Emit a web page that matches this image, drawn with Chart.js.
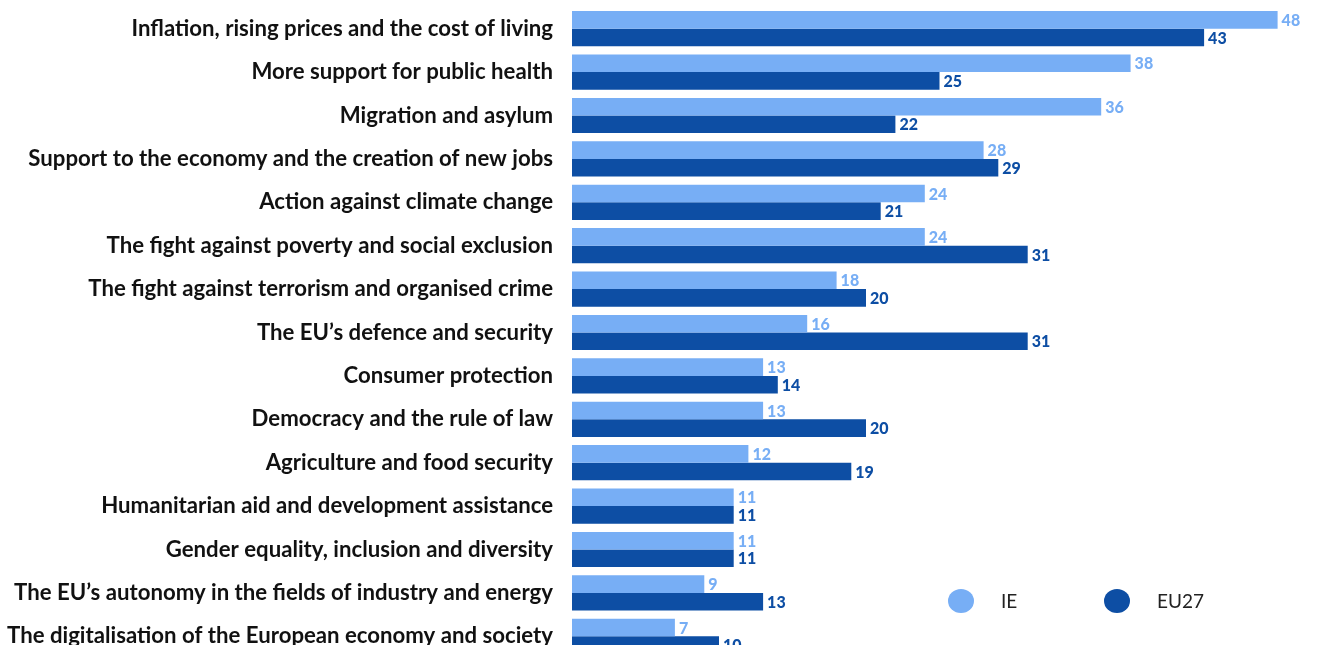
<!DOCTYPE html>
<html>
<head>
<meta charset="utf-8">
<script src="https://cdn.jsdelivr.net/npm/chart.js@4"></script>
<style>
    html, body { margin: 0; padding: 0; background: #fff; overflow: hidden; }
    #issuesChart { display: block; }
</style>
</head>
<body>
<canvas id="issuesChart" width="1318" height="668"></canvas>
<script>
const categories = [
    'Inflation, rising prices and the cost of living',
    'More support for public health',
    'Migration and asylum',
    'Support to the economy and the creation of new jobs',
    'Action against climate change',
    'The fight against poverty and social exclusion',
    'The fight against terrorism and organised crime',
    'The EU\u2019s defence and security',
    'Consumer protection',
    'Democracy and the rule of law',
    'Agriculture and food security',
    'Humanitarian aid and development assistance',
    'Gender equality, inclusion and diversity',
    'The EU\u2019s autonomy in the fields of industry and energy',
    'The digitalisation of the European economy and society'
];
const ieValues = [48, 38, 36, 28, 24, 24, 18, 16, 13, 13, 12, 11, 11, 9, 7];
const eu27Values = [43, 25, 22, 29, 21, 31, 20, 31, 14, 20, 19, 11, 11, 13, 10];
const seriesNames = ['IE', 'EU27'];

const LIGHT = '#77aef5';
const DARK = '#0d4ea4';
const FONT = "Lato, 'Noto Sans', sans-serif";

// Value labels just past the end of each bar, in the bar's colour
const valueLabels = {
    id: 'valueLabels',
    afterDatasetsDraw(chart) {
        const ctx = chart.ctx;
        ctx.save();
        ctx.font = '900 16px ' + FONT;
        ctx.textAlign = 'left';
        ctx.textBaseline = 'middle';
        chart.data.datasets.forEach((ds, i) => {
            const meta = chart.getDatasetMeta(i);
            ctx.fillStyle = ds.backgroundColor;
            meta.data.forEach((bar, j) => {
                ctx.fillText(ds.data[j], bar.x + 4, bar.y + 1);
            });
        });
        ctx.restore();
    }
};

// Legend sits inside the plot, lower right
const insideLegend = {
    id: 'insideLegend',
    afterDraw(chart) {
        const ctx = chart.ctx;
        const items = [
            { x: 961, color: LIGHT, label: seriesNames[0] },
            { x: 1117, color: DARK, label: seriesNames[1] }
        ];
        ctx.save();
        ctx.font = '19px ' + FONT;
        ctx.textBaseline = 'middle';
        items.forEach(it => {
            ctx.fillStyle = it.color;
            ctx.beginPath();
            ctx.ellipse(it.x, 601, 13, 12, 0, 0, Math.PI * 2);
            ctx.fill();
            ctx.fillStyle = '#222';
            ctx.fillText(it.label, it.x + 40, 602);
        });
        ctx.restore();
    }
};

new Chart(document.getElementById('issuesChart'), {
    type: 'bar',
    data: {
        labels: categories,
        datasets: [
            { label: seriesNames[0], data: ieValues, backgroundColor: LIGHT, borderWidth: 0 },
            { label: seriesNames[1], data: eu27Values, backgroundColor: DARK, borderWidth: 0 }
        ]
    },
    options: {
        indexAxis: 'y',
        responsive: false,
        animation: false,
        layout: { padding: { top: 7, right: 11, bottom: 10, left: 0 } },
        datasets: { bar: { barPercentage: 1, categoryPercentage: 0.81 } },
        plugins: {
            legend: { display: false },
            tooltip: { enabled: false }
        },
        scales: {
            x: {
                display: false,
                min: 0,
                max: 50
            },
            y: {
                grid: { display: false },
                border: { display: false },
                ticks: {
                    color: '#111',
                    padding: 11,
                    font: { family: FONT, size: 22.2, weight: 'bold' }
                },
                afterFit(scale) {
                    scale.width = 572;
                    // don't let the label half-heights shrink the plot vertically
                    scale.paddingTop = 0;
                    scale.paddingBottom = 0;
                }
            }
        }
    },
    plugins: [valueLabels, insideLegend]
});
</script>
</body>
</html>
